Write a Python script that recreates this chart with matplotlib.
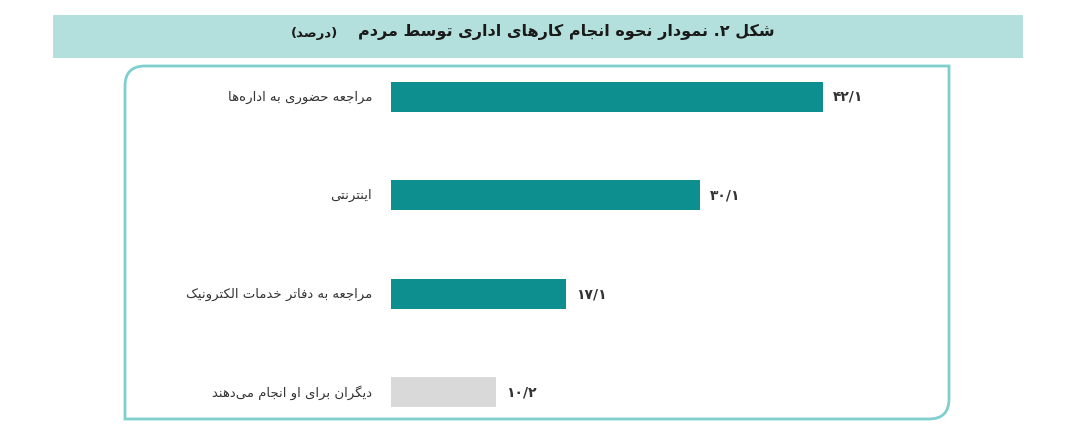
import matplotlib
matplotlib.use('Agg')
import matplotlib.pyplot as plt
from matplotlib.path import Path
from matplotlib.patches import PathPatch, Rectangle

# data
categories = ['مراجعه حضوری به اداره‌ها', 'اینترنتی', 'مراجعه به دفاتر خدمات الکترونیک', 'دیگران برای او انجام می‌دهند']
values = [42.1, 30.1, 17.1, 10.2]
value_labels = ['۴۲/۱', '۳۰/۱', '۱۷/۱', '۱۰/۲']
title = 'شکل ۲. نمودار نحوه انجام کارهای اداری توسط مردم'
title_unit = '(درصد)'

# presentation forms: isolated, final, initial, medial
FORMS = {
    'ا': (0xFE8D, 0xFE8E, None, None), 'ب': (0xFE8F, 0xFE90, 0xFE91, 0xFE92),
    'ت': (0xFE95, 0xFE96, 0xFE97, 0xFE98), 'ث': (0xFE99, 0xFE9A, 0xFE9B, 0xFE9C),
    'ج': (0xFE9D, 0xFE9E, 0xFE9F, 0xFEA0), 'ح': (0xFEA1, 0xFEA2, 0xFEA3, 0xFEA4),
    'خ': (0xFEA5, 0xFEA6, 0xFEA7, 0xFEA8), 'د': (0xFEA9, 0xFEAA, None, None),
    'ذ': (0xFEAB, 0xFEAC, None, None), 'ر': (0xFEAD, 0xFEAE, None, None),
    'ز': (0xFEAF, 0xFEB0, None, None), 'س': (0xFEB1, 0xFEB2, 0xFEB3, 0xFEB4),
    'ش': (0xFEB5, 0xFEB6, 0xFEB7, 0xFEB8), 'ص': (0xFEB9, 0xFEBA, 0xFEBB, 0xFEBC),
    'ض': (0xFEBD, 0xFEBE, 0xFEBF, 0xFEC0), 'ط': (0xFEC1, 0xFEC2, 0xFEC3, 0xFEC4),
    'ظ': (0xFEC5, 0xFEC6, 0xFEC7, 0xFEC8), 'ع': (0xFEC9, 0xFECA, 0xFECB, 0xFECC),
    'غ': (0xFECD, 0xFECE, 0xFECF, 0xFED0), 'ف': (0xFED1, 0xFED2, 0xFED3, 0xFED4),
    'ق': (0xFED5, 0xFED6, 0xFED7, 0xFED8), 'ل': (0xFEDD, 0xFEDE, 0xFEDF, 0xFEE0),
    'م': (0xFEE1, 0xFEE2, 0xFEE3, 0xFEE4), 'ن': (0xFEE5, 0xFEE6, 0xFEE7, 0xFEE8),
    'ه': (0xFEE9, 0xFEEA, 0xFEEB, 0xFEEC), 'و': (0xFEED, 0xFEEE, None, None),
    'ک': (0xFB8E, 0xFB8F, 0xFB90, 0xFB91), 'گ': (0xFB92, 0xFB93, 0xFB94, 0xFB95),
    'ی': (0xFBFC, 0xFBFD, 0xFBFE, 0xFBFF), 'پ': (0xFB56, 0xFB57, 0xFB58, 0xFB59),
    'چ': (0xFB7A, 0xFB7B, 0xFB7C, 0xFB7D), 'ژ': (0xFB8A, 0xFB8B, None, None),
}
MIRROR = {'(': ')', ')': '('}


def shape(s):
    '''join letters with presentation forms, then reverse for left-to-right drawing'''
    out = []
    for i, c in enumerate(s):
        if c not in FORMS:
            if c != '\u200c':
                out.append(MIRROR.get(c, c))
            continue
        prev = s[i-1] if i > 0 else ''
        nxt = s[i+1] if i < len(s)-1 else ''
        join_prev = prev in FORMS and FORMS[prev][2] is not None
        join_next = nxt in FORMS and FORMS[c][2] is not None
        f = FORMS[c]
        if join_prev and join_next:
            code = f[3]
        elif join_prev:
            code = f[1]
        elif join_next:
            code = f[2]
        else:
            code = f[0]
        out.append(chr(code))
    return ''.join(out[::-1])


W, H = 1080, 430
fig = plt.figure(figsize=(W/100, H/100), dpi=100)
fig.patch.set_facecolor('white')

# background layer in pixel coords
bg = fig.add_axes([0, 0, 1, 1])
bg.set_xlim(0, W)
bg.set_ylim(H, 0)
bg.axis('off')
bg.add_patch(Rectangle((53, 15), 970, 43, facecolor='#b3e0dc', edgecolor='none'))
bg.text(775, 32, shape(title), ha='right', va='center', fontsize=11.5, fontweight='bold',
        color='#1a1a1a', family='DejaVu Sans')
bg.text(338, 33, shape(title_unit), ha='right', va='center', fontsize=9.5, fontweight='bold',
        color='#1a1a1a', family='DejaVu Sans')

# frame with two rounded corners (top-left, bottom-right)
x0, y0, x1, y1, r = 125, 66, 949, 419, 20
verts = [(x0, y0+r), (x0, y0), (x0+r, y0), (x1, y0), (x1, y1-r), (x1, y1), (x1-r, y1), (x0, y1), (x0, y0+r)]
codes = [Path.MOVETO, Path.CURVE3, Path.CURVE3, Path.LINETO, Path.LINETO, Path.CURVE3, Path.CURVE3, Path.LINETO, Path.LINETO]
bg.add_patch(PathPatch(Path(verts, codes), facecolor='none', edgecolor='#7fcfcf', lw=2))

# bar axes
px_per_unit = (823-391)/42.1
ax_left = 391
ax_w = 50*px_per_unit
step = 98.5
ax_top = 97 - step/2
ax_h = 4*step
ax = fig.add_axes([ax_left/W, 1-(ax_top+ax_h)/H, ax_w/W, ax_h/H])
ax.set_xlim(0, 50)
ax.set_ylim(3.5, -0.5)
ax.axis('off')
ax.patch.set_alpha(0)

colors = ['#0e8f8f', '#0e8f8f', '#0e8f8f', '#d9d9d9']
ypos = list(range(len(values)))
ax.barh(ypos, values, height=30/step, color=colors)
for y, v, lab, cat in zip(ypos, values, value_labels, categories):
    ax.text(v + 10/px_per_unit, y, lab, ha='left', va='center', fontsize=10, fontweight='bold',
            color='#333333', family='DejaVu Sans')
    ax.text(-19/px_per_unit, y, shape(cat), ha='right', va='center', fontsize=9.5,
            color='#333333', family='DejaVu Sans')

fig.savefig('out.png', dpi=100)
